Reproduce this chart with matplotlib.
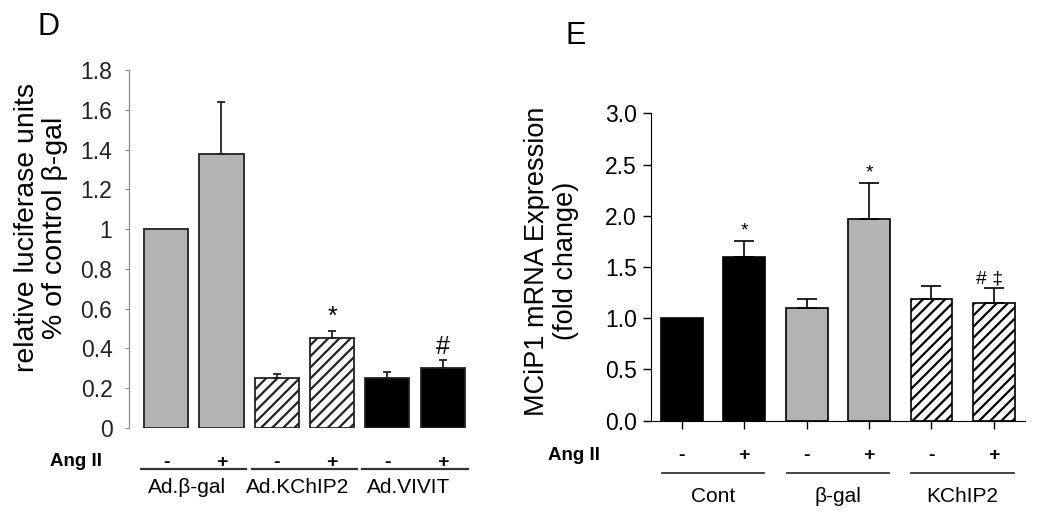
import numpy as np
import matplotlib
matplotlib.use("Agg")
import matplotlib.pyplot as plt
import matplotlib.transforms as mtransforms

plt.rcParams['font.family'] = ['Liberation Sans', 'DejaVu Sans']
plt.rcParams['hatch.linewidth'] = 1.6

# panel D data
d_groups = ["Ad.\u03b2-gal", "Ad.KChIP2", "Ad.VIVIT"]
d_values = [1.0, 1.38, 0.253, 0.454, 0.25, 0.30]
d_errors = [0.0, 0.26, 0.017, 0.036, 0.03, 0.04]
d_marks = ["", "", "", "*", "", "#"]

# panel E data
e_groups = ["Cont", "\u03b2-gal", "KChIP2"]
e_values = [1.0, 1.595, 1.10, 1.966, 1.19, 1.146]
e_errors = [0.0, 0.16, 0.09, 0.355, 0.12, 0.145]
e_marks = ["", "*", "", "*", "", "# \u2021"]

signs = ["-", "+", "-", "+", "-", "+"]

GRAY = "#b3b3b3"

fig = plt.figure(figsize=(10.5, 5.22), dpi=100)


def ang_row(ax, groups, y_sign, y_line, y_lab, half, lab_dx, lw):
    trans = mtransforms.blended_transform_factory(ax.transData, ax.transAxes)
    for i, s in enumerate(signs):
        ax.text(i, y_sign, s, transform=trans, ha="center", va="center",
                fontsize=14, fontweight="bold")
    for g, name in enumerate(groups):
        c = 2 * g + 0.5
        ax.plot([c - half, c + half], [y_line, y_line], transform=trans,
                color="#333333", lw=lw, clip_on=False)
        ax.text(c + lab_dx, y_lab, name, transform=trans, ha="center",
                va="center", fontsize=15)


# ---------------- panel D ----------------
axd = fig.add_axes([0.1229, 0.180, 0.325, 0.686])
x = np.arange(6)
d_fill = [GRAY, GRAY, "white", "white", "black", "black"]
d_hatch = [None, None, "///", "///", None, None]
for i in range(6):
    axd.bar(x[i], d_values[i], width=0.8, color=d_fill[i],
            edgecolor="#222222", linewidth=1.3, hatch=d_hatch[i], zorder=2)
    if d_errors[i] > 0:
        axd.errorbar(x[i], d_values[i], yerr=[[0], [d_errors[i]]],
                     fmt="none", ecolor="#222222", elinewidth=1.3,
                     capsize=3, capthick=1.3, zorder=3)
    if d_marks[i]:
        axd.annotate(d_marks[i], (x[i], d_values[i] + d_errors[i]),
                     xytext=(0, 1), textcoords="offset points",
                     ha="center", va="bottom", fontsize=18)
axd.set_xlim(-0.67, 5.5)
axd.set_ylim(0, 1.8)
axd.set_yticks(np.arange(0, 1.81, 0.2))
axd.set_yticklabels(["0", "0.2", "0.4", "0.6", "0.8", "1", "1.2", "1.4",
                     "1.6", "1.8"])
for side in ["top", "right", "bottom"]:
    axd.spines[side].set_visible(False)
axd.spines["left"].set_color("#888888")
axd.spines["left"].set_linewidth(0.9)
axd.tick_params(axis="y", length=3, color="#888888", labelsize=16.5,
                labelcolor="#222222", pad=9)
axd.set_xticks([])
axd.set_ylabel("relative luciferase units\n% of control \u03b2-gal",
               fontsize=20.5, linespacing=1.12)
axd.yaxis.set_label_coords(-0.179, 0.56)
ang_row(axd, d_groups, -0.095, -0.1145, -0.165, 0.95, -0.12, 1.6)
fig.text(0.048, 1 - 462 / 522, "Ang II", ha="left", va="center",
         fontsize=13.5, fontweight="bold")
fig.text(0.036, 1 - 27 / 522, "D", ha="left", va="center", fontsize=22)

# ---------------- panel E ----------------
axe = fig.add_axes([0.6197, 0.194, 0.3565, 0.589])
e_fill = ["black", "black", GRAY, GRAY, "white", "white"]
e_hatch = [None, None, None, None, "///", "///"]
for i in range(6):
    axe.bar(x[i], e_values[i], width=0.67, color=e_fill[i],
            edgecolor="black", linewidth=1.2, hatch=e_hatch[i], zorder=2)
    if e_errors[i] > 0:
        axe.errorbar(x[i], e_values[i], yerr=[[0], [e_errors[i]]],
                     fmt="none", ecolor="black", elinewidth=1.2,
                     capsize=7, capthick=1.2, zorder=3)
    if e_marks[i]:
        axe.annotate(e_marks[i], (x[i], e_values[i] + e_errors[i]),
                     xytext=(-3 if "#" in e_marks[i] else 0, 1),
                     textcoords="offset points",
                     ha="center", va="bottom", fontsize=14)
axe.set_xlim(-0.5, 5.5)
axe.set_ylim(0, 3.0)
axe.set_yticks(np.arange(0, 3.01, 0.5))
axe.set_yticklabels([f"{v:.1f}" for v in np.arange(0, 3.01, 0.5)])
axe.set_xticks(x)
axe.set_xticklabels([])
for side in ["top", "right"]:
    axe.spines[side].set_visible(False)
axe.spines["bottom"].set_bounds(-0.6, 5.5)
axe.tick_params(axis="y", direction="out", length=6, width=1,
                labelsize=16.5, pad=4)
axe.tick_params(axis="x", direction="out", length=6, width=1)
axe.set_ylabel("MCiP1 mRNA Expression\n(fold change)", fontsize=19.5,
               linespacing=1.12)
axe.yaxis.set_label_coords(-0.192, 0.52)
ang_row(axe, e_groups, -0.1116, -0.171, -0.245, 0.82, 0.0, 1.3)
fig.text(548 / 1050, 1 - 455 / 522, "Ang II", ha="left", va="center",
         fontsize=13.5, fontweight="bold")
fig.text(566 / 1050, 1 - 36 / 522, "E", ha="left", va="center", fontsize=22)

fig.savefig("out.png", dpi=100)
